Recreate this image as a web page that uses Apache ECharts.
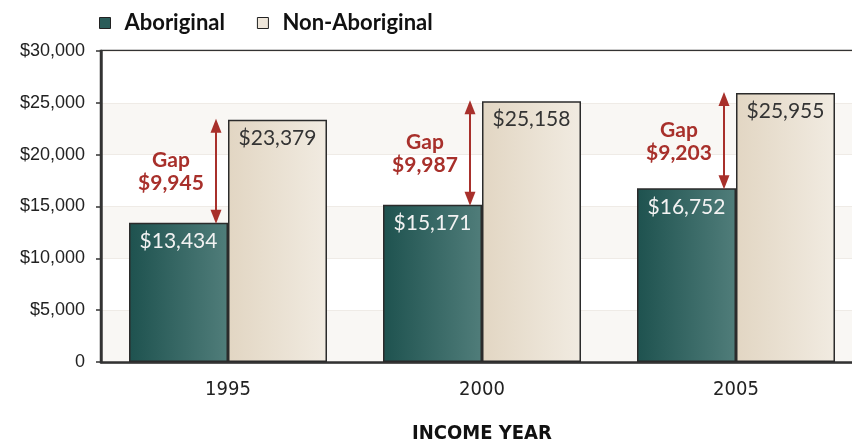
<!DOCTYPE html>
<html><head><meta charset="utf-8">
<script src="https://cdn.jsdelivr.net/npm/echarts@6/dist/echarts.min.js"></script>
<style>html,body{margin:0;padding:0;background:#fff}#c{width:852px;height:442px}</style>
</head><body><div id="c"></div>
<script>
const categories = ['1995', '2000', '2005'];
const aboriginal = [13434, 15171, 16752];
const nonAboriginal = [23379, 25158, 25955];
const yTicks = [0, 5000, 10000, 15000, 20000, 25000, 30000];

const fmt = v => v.toLocaleString('en-US');
const RED = '#a8302b';
const SANS = "'Liberation Sans', Arial, sans-serif";
const NARROW = "'Liberation Sans Narrow', 'DejaVu Sans Condensed', sans-serif";
const chart = echarts.init(document.getElementById('c'));

function renderGap(params, api) {
  const cat = api.value(0);
  const lo = api.coord([cat, api.value(1)]);
  const hi = api.coord([cat, api.value(2)]);
  const x = hi[0] - 12;
  const y1 = hi[1] - 1, y2 = lo[1] + 1;
  const ah = 14, aw = 5.5;
  const gap = api.value(2) - api.value(1);
  return {type: 'group', children: [
    {type: 'line', shape: {x1: x, y1: y1 + ah - 2, x2: x, y2: y2 - ah + 2}, style: {stroke: RED, lineWidth: 2}},
    {type: 'polygon', shape: {points: [[x, y1], [x - aw, y1 + ah], [x + aw, y1 + ah]]}, style: {fill: RED}},
    {type: 'polygon', shape: {points: [[x, y2], [x - aw, y2 - ah], [x + aw, y2 - ah]]}, style: {fill: RED}},
    {type: 'text', style: {text: 'Gap\n$' + fmt(gap), x: x - 45, y: (y1 + y2) / 2 + 1,
      align: 'center', verticalAlign: 'middle', fill: RED,
      font: 'bold 21px Lato', lineHeight: 23}}
  ]};
}

const aboGrad = new echarts.graphic.LinearGradient(0, 0, 1, 0, [
  {offset: 0, color: '#1e524f'}, {offset: 1, color: '#507d7a'}]);
const nonGrad = new echarts.graphic.LinearGradient(0, 0, 1, 0, [
  {offset: 0, color: '#e2d6c3'}, {offset: 1, color: '#f1ebe1'}]);

chart.setOption({
  animation: false,
  backgroundColor: '#ffffff',
  legend: {
    left: 99, top: 12, padding: 0, itemWidth: 11, itemHeight: 11, itemGap: 32, icon: 'rect',
    textStyle: {fontFamily: 'Lato', fontWeight: 'bold', fontSize: 22, color: '#111', padding: [0, 0, 0, 9]},
    data: [
      {name: 'Aboriginal', itemStyle: {color: '#2a5c59', borderColor: '#222', borderWidth: 1}},
      {name: 'Non-Aboriginal', itemStyle: {color: '#eee6da', borderColor: '#222', borderWidth: 1}}
    ]
  },
  grid: {left: 101, top: 51, bottom: 80, right: -11, outerBoundsMode: 'none', containLabel: false,
    show: true, borderColor: '#333', borderWidth: 2.5, backgroundColor: 'transparent'},
  xAxis: {
    type: 'category', data: categories,
    name: 'INCOME YEAR', nameLocation: 'middle', nameGap: 62,
    nameTextStyle: {fontFamily: NARROW, fontWeight: 'bold', fontSize: 20, color: '#111'},
    axisLine: {lineStyle: {color: '#333', width: 2.5}},
    axisTick: {length: 7, lineStyle: {color: '#333', width: 1.5}},
    axisLabel: {fontFamily: NARROW, fontSize: 20, color: '#222', margin: 18}
  },
  yAxis: {
    type: 'value', min: 0, max: 30000, interval: 5000,
    axisLine: {show: true, lineStyle: {color: '#333', width: 2.5}},
    axisTick: {show: true, length: 5, lineStyle: {color: '#333', width: 1.5}},
    axisLabel: {fontFamily: SANS, fontSize: 18, color: '#222', margin: 16,
      formatter: v => yTicks.includes(v) ? (v === 0 ? '0' : '$' + fmt(v)) : ''},
    splitLine: {show: true, lineStyle: {color: '#efebe6', width: 1}},
    splitArea: {show: true, areaStyle: {color: ['#f9f7f4', '#ffffff']}}
  },
  series: [
    {name: 'Aboriginal', type: 'bar', data: aboriginal, barWidth: 99, barGap: '0%',
      itemStyle: {color: aboGrad, borderColor: '#2b2b2b', borderWidth: 1.5},
      label: {show: true, position: 'insideTop', distance: 8, color: '#f2f2f2',
        fontFamily: 'Lato', fontSize: 21, formatter: p => '$' + fmt(p.value)}},
    {name: 'Non-Aboriginal', type: 'bar', data: nonAboriginal, barWidth: 99,
      itemStyle: {color: nonGrad, borderColor: '#2b2b2b', borderWidth: 1.5},
      label: {show: true, position: 'insideTop', distance: 8, color: '#333',
        fontFamily: 'Lato', fontSize: 21, formatter: p => '$' + fmt(p.value)}},
    {name: 'gap', type: 'custom', renderItem: renderGap, z: 10,
      encode: {x: 0, y: [1, 2]},
      data: categories.map((c, i) => [i, aboriginal[i], nonAboriginal[i]])}
  ]
});
</script></body></html>
